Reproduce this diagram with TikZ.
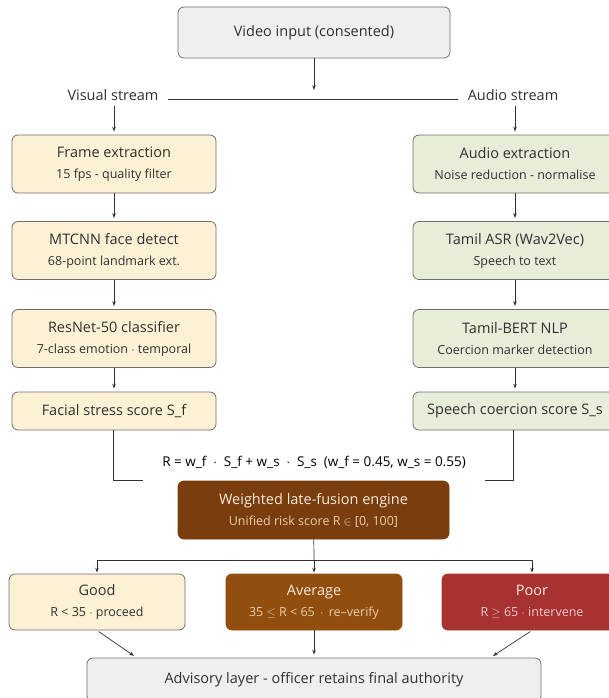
\documentclass[tikz,border=0pt]{standalone}
\usepackage{fontspec}
\setmainfont{Open Sans}
\usetikzlibrary{arrows.meta,calc}
\definecolor{InkGray}{RGB}{48,48,48}
\definecolor{LineGray}{RGB}{110,110,110}
\definecolor{InFill}{RGB}{239,239,239}
\definecolor{VisFill}{RGB}{252,241,212}
\definecolor{AudFill}{RGB}{232,237,218}
\definecolor{FuseFill}{RGB}{122,62,14}
\definecolor{AvgFill}{RGB}{146,78,14}
\definecolor{PoorFill}{RGB}{168,50,50}
\definecolor{OnDark}{RGB}{248,234,218}
\definecolor{OnDarkSub}{RGB}{232,206,176}
\definecolor{OnRedSub}{RGB}{240,200,200}
\newcommand{\subline}[1]{{\fontsize{12.5}{14}\selectfont #1}}

\begin{document}
\begin{tikzpicture}[x=1pt,y=-1pt,
box/.style={draw=LineGray,line width=0.8pt,rounded corners=6pt,align=center,inner sep=0pt,font=\fontsize{14.5}{21}\selectfont,text=InkGray},
vis/.style={box,fill=VisFill,minimum width=204pt,minimum height=58pt},
aud/.style={box,fill=AudFill,minimum width=204pt,minimum height=58pt},
res/.style={box,minimum width=176pt,minimum height=56pt},
lbl/.style={font=\fontsize{14.5}{17}\selectfont,text=InkGray,inner sep=3pt},
arr/.style={-{Stealth[length=5pt,width=3.5pt]},line width=0.7pt,draw=InkGray,shorten >=3pt},
ln/.style={line width=0.7pt,draw=InkGray}
]
\useasboundingbox (0,0) rectangle (608,698);

% input and split
\node[box,fill=InFill,minimum width=272pt,minimum height=51pt] (vid) at (314,32.5) {Video input (consented)};
\node[lbl] (vlab) at (113,95) {Visual stream};
\node[lbl] (alab) at (513,95) {Audio stream};
\coordinate (split) at (314,93);
\draw[arr] (vid) -- (split);
\draw[ln] (168,99) coordinate (sl) -- (458,99) coordinate (sr);

% visual stream
\node[vis] (fr) at (114,164) {Frame extraction\\\subline{15 fps - quality filter}};
\node[vis] (mt) at (114,250.5) {MTCNN face detect\\\subline{68-point landmark ext.}};
\node[vis] (rn) at (114,338.5) {ResNet-50 classifier\\\subline{7-class emotion $\cdot$ temporal}};
\node[vis,minimum height=38pt] (fs) at (114,411) {Facial stress score S\_f};

% audio stream
\node[aud] (ax) at (515,164) {Audio extraction\\\subline{Noise reduction - normalise}};
\node[aud] (asr) at (515,250.5) {Tamil ASR (Wav2Vec)\\\subline{Speech to text}};
\node[aud] (nlp) at (515,338.5) {Tamil-BERT NLP\\\subline{Coercion marker detection}};
\node[aud,minimum height=38pt] (ss) at (515,411) {Speech coercion score S\_s};

\draw[arr,shorten <=2pt] (vlab.south -| fr) -- (fr);
\draw[arr,shorten <=2pt] (alab.south -| ax) -- (ax);
\draw[arr] (fr) -- (mt);
\draw[arr] (mt) -- (rn);
\draw[arr] (rn) -- (fs);
\draw[arr] (ax) -- (asr);
\draw[arr] (asr) -- (nlp);
\draw[arr] (nlp) -- (ss);

% fusion
\node[font=\fontsize{13.5}{16}\selectfont,text=black] (eq) at (314,462) {R = w\_f\enspace$\cdot$\enspace S\_f + w\_s\enspace$\cdot$\enspace S\_s\enspace(w\_f = 0.45, w\_s = 0.55)};
\coordinate (fl) at (143,480);
\coordinate (fr2) at (485,480);
\draw[ln] (fs.south -| 113,0) |- (fl);
\draw[ln] (ss.south -| 513,0) |- (fr2);
\node[box,fill=FuseFill,draw=FuseFill,text=OnDark,minimum width=271pt,minimum height=58pt] (fu) at (313.5,510) {Weighted late-fusion engine\\{\color{OnDarkSub}\subline{Unified risk score R $\in$ [0, 100]}}};

% outcomes
\node[res,fill=VisFill] (good) at (97,602) {Good\\\subline{R < 35 $\cdot$ proceed}};
\node[res,fill=AvgFill,draw=AvgFill,text=OnDark] (avg) at (314,602) {Average\\{\color{OnDarkSub}\subline{35 $\leq$ R < 65 \,$\cdot$\, re--verify}}};
\node[res,fill=PoorFill,draw=PoorFill,text=OnDark,minimum width=180pt] (poor) at (532,602) {Poor\\{\color{OnRedSub}\subline{R $\geq$ 65 $\cdot$ intervene}}};
\coordinate (hub) at (314,560);
\draw[ln] (fu) -- (hub);
\draw[ln] (hub -| good) -- (hub -| poor);
\draw[arr,shorten >=1pt] (hub -| good) -- (good);
\draw[arr,shorten >=1pt] (hub) -- (avg);
\draw[arr,shorten >=1pt] (hub -| poor) -- (poor);

% advisory
\node[box,fill=InFill,minimum width=454pt,minimum height=44pt] (adv) at (314,680) {Advisory layer - officer retains final authority};
\draw[arr,shorten <=2pt] (good.south) -- ([xshift=50pt]adv.north west);
\draw[arr] (avg) -- (adv);
\draw[arr,shorten <=2pt] (poor.south) -- ([xshift=-51pt]adv.north east);
\end{tikzpicture}
\end{document}
